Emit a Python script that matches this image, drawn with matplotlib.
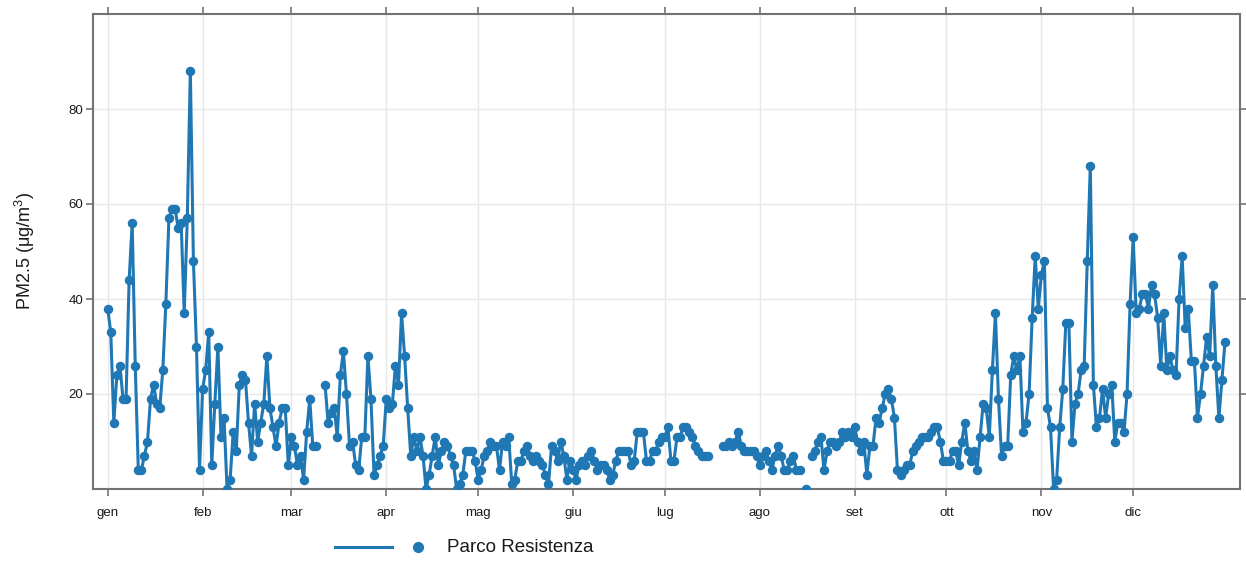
import numpy as np
import pandas as pd
import matplotlib
matplotlib.use("Agg")
import matplotlib.pyplot as plt
from matplotlib.lines import Line2D

plt.rcParams["font.family"] = ["Liberation Sans", "DejaVu Sans"]
plt.rcParams["mathtext.fontset"] = "custom"
plt.rcParams["mathtext.rm"] = "Liberation Sans"

nan = np.nan

site_name = "Parco Resistenza"
year_start = "2024-01-01"
month_labels = ["gen", "feb", "mar", "apr", "mag", "giu",
                "lug", "ago", "set", "ott", "nov", "dic"]
y_ticks = [20, 40, 60, 80]
y_label = "PM2.5 (μg/m$^{3}$)"

# daily PM2.5 means, one list per month
pm25_jan = [38, 33, 14, 24, 26, 19, 19, 44, 56, 26, 4, 4, 7, 10, 19, 22,
            18, 17, 25, 39, 57, 59, 59, 55, 56, 37, 57, 88, 48, 30, 4]
pm25_feb = [21, 25, 33, 5, 18, 30, 11, 15, 0, 2, 12, 8, 22, 24, 23, 14,
            7, 18, 10, 14, 18, 28, 17, 13, 9, 14, 17, 17, 5]
pm25_mar = [11, 9, 5, 7, 2, 12, 19, 9, 9, nan, nan, 22, 14, 16, 17, 11,
            24, 29, 20, 9, 10, 5, 4, 11, 11, 28, 19, 3, 5, 7, 9]
pm25_apr = [19, 17, 18, 26, 22, 37, 28, 17, 7, 11, 8, 11, 7, 0, 3, 7,
            11, 5, 8, 10, 9, 7, 5, 0, 1, 3, 8, 8, 8, 6]
pm25_may = [2, 4, 7, 8, 10, 9, 9, 4, 10, 9, 11, 1, 2, 6, 6, 8,
            9, 7, 6, 7, 6, 5, 3, 1, 9, 8, 6, 10, 7, 2, 6]
pm25_jun = [4, 2, 5, 6, 5, 7, 8, 6, 4, 5, 5, 4, 2, 3, 6, 8,
            8, 8, 8, 5, 6, 12, 12, 12, 6, 6, 8, 8, 10, 11]
pm25_jul = [11, 13, 6, 6, 11, 11, 13, 13, 12, 11, 9, 8, 7, 7, 7, nan,
            nan, nan, nan, 9, 9, 10, 9, 10, 12, 9, 8, 8, 8, 8, 7]
pm25_aug = [5, 7, 8, 6, 4, 7, 9, 7, 4, 4, 6, 7, 4, 4, nan, 0,
            nan, 7, 8, 10, 11, 4, 8, 10, 10, 9, 10, 12, 11, 12, 11]
pm25_sep = [13, 10, 8, 10, 3, 9, 9, 15, 14, 17, 20, 21, 19, 15, 4, 3,
            4, 5, 5, 8, 9, 10, 11, 11, 11, 12, 13, 13, 10, 6]
pm25_oct = [6, 6, 8, 8, 5, 10, 14, 8, 6, 8, 4, 11, 18, 17, 11, 25,
            37, 19, 7, 9, 9, 24, 28, 25, 28, 12, 14, 20, 36, 49, 38]
pm25_nov = [45, 48, 17, 13, 0, 2, 13, 21, 35, 35, 10, 18, 20, 25, 26, 48,
            68, 22, 13, 15, 21, 15, 20, 22, 10, 14, 14, 12, 20, 39]
pm25_dec = [53, 37, 38, 41, 41, 38, 43, 41, 36, 26, 37, 25, 28, 25, 24, 40,
            49, 34, 38, 27, 27, 15, 20, 26, 32, 28, 43, 26, 15, 23, 31]

pm25 = np.array(pm25_jan + pm25_feb + pm25_mar + pm25_apr + pm25_may
                + pm25_jun + pm25_jul + pm25_aug + pm25_sep + pm25_oct
                + pm25_nov + pm25_dec, dtype=float)
dates = pd.date_range(year_start, periods=len(pm25), freq="D")
month_starts = pd.date_range(year_start, periods=12, freq="MS")

line_color = "#1f77b4"
frame_color = "#737373"
grid_color = "#e8e8e8"
text_color = "#1a1a1a"

fig = plt.figure(figsize=(12.46, 5.61), dpi=100)
ax = fig.add_axes([93 / 1246, 1 - 489 / 561, (1240 - 93) / 1246, (489 - 14) / 561])

ax.plot(dates, pm25, color=line_color, lw=2.2, marker="o", ms=5.8,
        mec=line_color, mfc=line_color, zorder=3)

day = pd.Timedelta(days=1)
ax.set_xlim(dates[0] - 4.8 * day, dates[0] + 369.9 * day)
ax.set_ylim(0, 100)

ax.set_xticks(month_starts)
ax.set_xticklabels(month_labels)
ax.set_yticks(y_ticks)
ax.set_yticklabels([str(v) for v in y_ticks])

ax.grid(True, color=grid_color, lw=1.0, zorder=0)
ax.set_axisbelow(True)

for sp in ax.spines.values():
    sp.set_color(frame_color)
    sp.set_linewidth(1.5)

ax.tick_params(axis="both", which="major", direction="out", length=5,
               width=1.2, color=frame_color, labelsize=9.5, labelcolor=text_color,
               top=True, right=True, labeltop=False, labelright=False)
ax.tick_params(axis="x", pad=8)
ax.tick_params(axis="y", pad=2)

ax.set_ylabel(y_label, fontsize=13, color=text_color, labelpad=23)

# key below the panel: line sample, point sample, site name
fig.add_artist(Line2D([335 / 1246, 392 / 1246], [1 - 547 / 561] * 2,
                      transform=fig.transFigure, color=line_color, lw=2.2))
fig.add_artist(Line2D([418 / 1246], [1 - 547 / 561], transform=fig.transFigure,
                      color=line_color, marker="o", ms=7, lw=0))
fig.text(447 / 1246, 1 - 547 / 561, site_name, fontsize=13.5, color=text_color,
         va="center", ha="left")

fig.savefig("out.png", dpi=100)
